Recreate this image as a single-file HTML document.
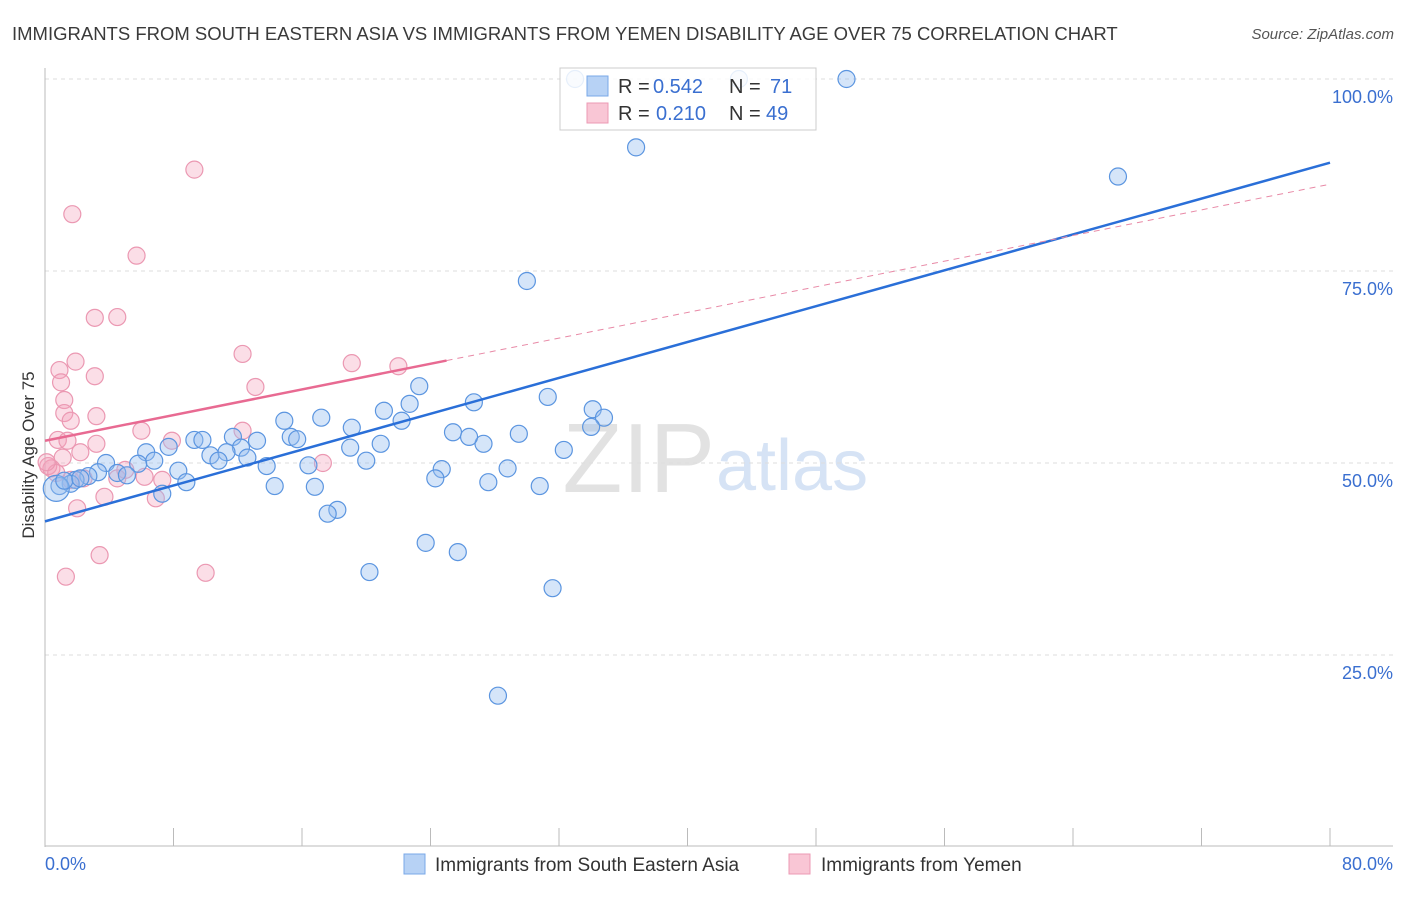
<!DOCTYPE html>
<html><head><meta charset="utf-8"><style>
body{margin:0;background:#fff;font-family:"Liberation Sans",sans-serif;}
svg text{font-family:"Liberation Sans",sans-serif;}
</style></head><body>
<svg id="c" width="1406" height="892" xmlns="http://www.w3.org/2000/svg">
<text x="12" y="40" font-size="18.5" fill="#3a3a3a">IMMIGRANTS FROM SOUTH EASTERN ASIA VS IMMIGRANTS FROM YEMEN DISABILITY AGE OVER 75 CORRELATION CHART</text>
<text x="1394" y="39" font-size="15" fill="#555" text-anchor="end" font-style="italic">Source: ZipAtlas.com</text>
<text x="715" y="492" font-size="98" fill="#e2e2e2" text-anchor="end" font-family="Liberation Serif">ZIP</text>
<text x="716" y="490" font-size="72" fill="#d6e3f5">atlas</text>
<g id="grid"></g>
<g id="pts"></g>
<g id="lines"></g>
<text transform="translate(34,455) rotate(-90)" font-size="17" fill="#333" text-anchor="middle">Disability Age Over 75</text>
<g>
<rect x="560" y="68" width="256" height="62" fill="#fff" fill-opacity="0.85" stroke="#ccc"/>
<rect x="587" y="76" width="21" height="20" fill="#b7d2f5" stroke="#7aa8e8"/>
<rect x="587" y="103" width="21" height="20" fill="#f9c6d5" stroke="#ec9ab4"/>
<text x="618" y="93" font-size="20" fill="#333">R =</text>
<text x="653" y="93" font-size="20" fill="#3a6fd0">0.542</text>
<text x="729" y="93" font-size="20" fill="#333">N =</text>
<text x="770" y="93" font-size="20" fill="#3a6fd0">71</text>
<text x="618" y="120" font-size="20" fill="#333">R =</text>
<text x="656" y="120" font-size="20" fill="#3a6fd0">0.210</text>
<text x="729" y="120" font-size="20" fill="#333">N =</text>
<text x="766" y="120" font-size="20" fill="#3a6fd0">49</text>
</g>
<g>
<rect x="404" y="854" width="21" height="20" fill="#b7d2f5" stroke="#7aa8e8"/>
<text x="435" y="871" font-size="19" fill="#333">Immigrants from South Eastern Asia</text>
<rect x="789" y="854" width="21" height="20" fill="#f9c6d5" stroke="#ec9ab4"/>
<text x="821" y="871" font-size="19" fill="#333">Immigrants from Yemen</text>
</g>
</svg>
<script>
const yTicks=[25,50,75,100];
const yTickLabels=["25.0%","50.0%","75.0%","100.0%"];
const xTickLabels=["0.0%","80.0%"];
const blueX=[33.0,43.2,49.9,36.8,66.8,30.0,23.3,31.3,26.7,22.7,21.1,34.1,34.8,22.2,17.2,14.9,19.1,34.0,25.4,29.5,15.3,15.7,11.7,9.3,9.8,7.7,13.2,32.3,20.9,27.3,26.4,6.3,12.2,10.3,11.3,19.0,6.8,10.8,12.6,20.0,13.8,16.4,3.8,5.8,8.3,28.8,24.7,3.3,4.5,2.7,5.1,24.3,27.6,8.8,1.9,1.6,0.9,14.3,16.8,30.8,7.3,18.2,17.6,23.7,25.7,20.2,31.6,28.2,0.7,1.2,2.2];
const blueY=[100,100,100,91.1,87.3,73.7,60.0,58.6,57.9,57.7,56.8,57.0,55.9,55.5,55.9,55.5,54.6,54.7,54.0,53.8,53.4,53.1,53.4,53.0,53.0,52.1,52.9,51.7,52.5,52.5,53.4,51.4,52.0,51.0,51.4,52.0,50.3,50.3,50.7,50.3,49.6,49.7,50.0,49.9,49.0,49.3,49.2,48.8,48.7,48.3,48.4,48.0,47.5,47.5,47.8,47.3,47.0,47.0,46.9,47.0,46.0,43.9,43.4,39.6,38.4,35.8,33.7,19.7,46.7,47.7,48.0];
const pinkX=[9.3,1.7,5.7,3.1,4.5,12.3,1.9,19.1,22.0,0.9,3.1,1.0,13.1,1.2,1.2,1.6,3.2,6.0,12.3,7.9,0.8,1.4,3.2,2.2,1.1,0.4,17.3,0.2,0.7,1.6,2.4,4.5,5.0,6.2,6.9,3.7,2.0,3.4,10.0,1.3,7.3,0.1];
const pinkY=[88.2,82.4,77.0,68.9,69.0,64.2,63.2,63.0,62.6,62.1,61.3,60.5,59.9,58.2,56.5,55.5,56.1,54.2,54.2,52.9,53.0,52.9,52.5,51.4,50.7,49.3,50.0,49.6,48.7,47.8,48.0,48.0,49.1,48.2,45.4,45.6,44.1,38.0,35.7,35.2,47.8,50.1];
const blueTrend=[42.4,89.1];
const pinkTrend=[52.9,86.3];
const pinkSolidEnd=25.0;
const X=v=>45+v*1285/80, Y=v=>847-v*7.68;
const NS="http://www.w3.org/2000/svg";
function mk(tag,at,parent){const e=document.createElementNS(NS,tag);for(const k in at)e.setAttribute(k,at[k]);document.getElementById(parent).appendChild(e);return e;}
yTicks.forEach((t,i)=>{
 const l=mk('line',{x1:45,x2:1393,y1:Y(t),y2:Y(t),stroke:'#ddd','stroke-dasharray':'4,4'},'grid');
 
 
 const tx=mk('text',{x:1393,y:Y(t)+24,'font-size':18,fill:'#3a6fd0','text-anchor':'end'},'grid');tx.textContent=yTickLabels[i];
 
 
});
mk('line',{x1:45,x2:45,y1:68,y2:847,stroke:'#bbb'},'grid');
mk('line',{x1:45,x2:1393,y1:846,y2:846,stroke:'#bbb'},'grid');
for(let i=0;i<=10;i++){mk('line',{x1:X(i*8),x2:X(i*8),y1:828,y2:846,stroke:'#bbb'},'grid');}
const xl0=mk('text',{x:45,y:870,'font-size':18,fill:'#3a6fd0'},'grid');xl0.textContent=xTickLabels[0];


const xl1=mk('text',{x:1393,y:870,'font-size':18,fill:'#3a6fd0','text-anchor':'end'},'grid');xl1.textContent=xTickLabels[1];


pinkX.forEach((x,i)=>{const c=mk('circle',{cx:X(x),cy:Y(pinkY[i]),r:8.5,fill:'rgba(243,160,185,0.35)',stroke:'#eb98b2','stroke-width':1.2},'pts');
 
 });
blueX.forEach((x,i)=>{const c=mk('circle',{cx:X(x),cy:Y(blueY[i]),r:i==68?13:8.5,fill:'rgba(150,190,240,0.4)',stroke:'#5b95e0','stroke-width':1.2},'pts');
 
 });
const pY=x=>pinkTrend[0]+(pinkTrend[1]-pinkTrend[0])*x/80;
let l1=mk('line',{x1:X(0),y1:Y(blueTrend[0]),x2:X(80),y2:Y(blueTrend[1]),stroke:'#2a6fd8','stroke-width':2.5},'lines');


let l2=mk('line',{x1:X(0),y1:Y(pY(0)),x2:X(pinkSolidEnd),y2:Y(pY(pinkSolidEnd)),stroke:'#e86a92','stroke-width':2.5},'lines');


let l3=mk('line',{x1:X(pinkSolidEnd),y1:Y(pY(pinkSolidEnd)),x2:X(80),y2:Y(pY(80)),stroke:'#e889a6','stroke-width':1,'stroke-dasharray':'6,5'},'lines');


</script>
</body></html>
